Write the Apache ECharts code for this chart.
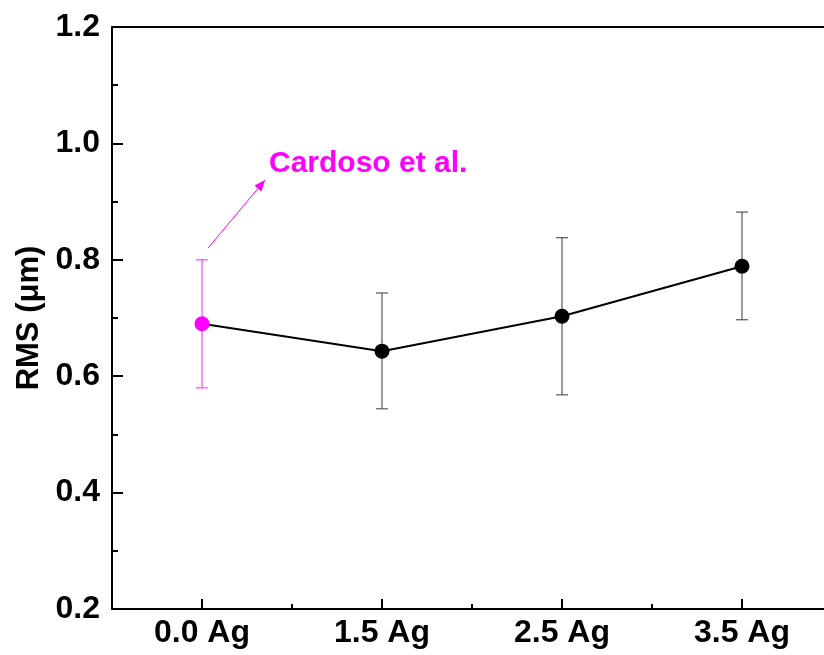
<!DOCTYPE html>
<html>
<head>
<meta charset="utf-8">
<script src="https://cdn.jsdelivr.net/npm/echarts@6/dist/echarts.min.js"></script>
<style>
  html, body { margin: 0; padding: 0; background: #fff; overflow: hidden; }
  #main { width: 900px; height: 655px; }
</style>
</head>
<body>
<div id="main"></div>
<script>
// 数据
const categories = ['0.0 Ag', '1.5 Ag', '2.5 Ag', '3.5 Ag'];
const rmsValues = [0.690, 0.643, 0.703, 0.789];
const errLow = [0.580, 0.544, 0.568, 0.697];
const errHigh = [0.800, 0.743, 0.838, 0.882];
const pointColors = ['#ff00ff', '#000000', '#000000', '#000000'];
const barColors = ['#ff44ff', '#555555', '#555555', '#555555'];
const noteText = 'Cardoso et al.';

const FONT = 'Liberation Sans, Arial, sans-serif';

const chart = echarts.init(document.getElementById('main'));

// 误差棒
const errData = categories.map((c, i) => [i, errLow[i], errHigh[i]]);

function renderErr(params, api) {
  const i = api.value(0);
  const lo = api.coord([i, api.value(1)]);
  const hi = api.coord([i, api.value(2)]);
  const w = 6;
  const style = { stroke: barColors[i], lineWidth: 1.2 };
  return {
    type: 'group',
    children: [
      { type: 'line', shape: { x1: lo[0], y1: lo[1], x2: hi[0], y2: hi[1] }, style },
      { type: 'line', shape: { x1: lo[0] - w, y1: lo[1], x2: lo[0] + w, y2: lo[1] }, style },
      { type: 'line', shape: { x1: hi[0] - w, y1: hi[1], x2: hi[0] + w, y2: hi[1] }, style }
    ]
  };
}

const option = {
  animation: false,
  backgroundColor: '#fff',
  grid: {
    left: 112, top: 27, width: 720, height: 582,
    outerBoundsMode: 'none',
    containLabel: false,
    show: false
  },
  xAxis: [
    {
      type: 'category',
      data: categories,
      boundaryGap: true,
      axisLine: { show: true, lineStyle: { color: '#000', width: 2 } },
      axisTick: { show: true, alignWithLabel: true, inside: true, length: 10, lineStyle: { color: '#000', width: 2 } },
      axisLabel: { color: '#000', fontFamily: FONT, fontWeight: 'bold', fontSize: 32, margin: 8 },
      splitLine: { show: false }
    },
    {
      // 次刻度
      type: 'category',
      data: categories,
      position: 'bottom',
      boundaryGap: true,
      axisLine: { show: false },
      axisTick: { show: true, alignWithLabel: false, inside: true, length: 5, lineStyle: { color: '#000', width: 2 } },
      axisLabel: { show: false },
      splitLine: { show: false }
    },
    {
      // 顶部边框
      type: 'category',
      data: categories,
      position: 'top',
      axisLine: { show: true, lineStyle: { color: '#000', width: 2 } },
      axisTick: { show: false },
      axisLabel: { show: false },
      splitLine: { show: false }
    }
  ],
  yAxis: {
    type: 'value',
    min: 0.2, max: 1.2, interval: 0.2,
    name: 'RMS (μm)',
    nameLocation: 'middle',
    nameGap: 63,
    nameTextStyle: { color: '#000', fontFamily: FONT, fontWeight: 'bold', fontSize: 31 },
    axisLine: { show: true, lineStyle: { color: '#000', width: 2 } },
    axisTick: { show: true, inside: true, length: 11, lineStyle: { color: '#000', width: 2 } },
    minorTick: { show: true, splitNumber: 2, length: 6, lineStyle: { color: '#000', width: 2 } },
    axisLabel: {
      color: '#000', fontFamily: FONT, fontWeight: 'bold', fontSize: 32, margin: 12,
      formatter: v => v.toFixed(1)
    },
    splitLine: { show: false },
    minorSplitLine: { show: false }
  },
  series: [
    {
      type: 'custom',
      xAxisIndex: 0,
      renderItem: renderErr,
      data: errData,
      z: 1
    },
    {
      type: 'line',
      xAxisIndex: 0,
      data: rmsValues.map((v, i) => ({ value: v, itemStyle: { color: pointColors[i] } })),
      symbol: 'circle',
      symbolSize: 15,
      lineStyle: { color: '#000', width: 2 },
      itemStyle: { color: '#000', borderWidth: 0 },
      z: 3
    }
  ]
};

chart.setOption(option);

// 标注：箭头 + 文字（锚点用数据坐标换算）
const p0 = chart.convertToPixel({ xAxisIndex: 0, yAxisIndex: 0 }, [0, 0.82]);
const p1 = chart.convertToPixel({ xAxisIndex: 0, yAxisIndex: 0 }, [0, 0.937]);
const start = [p0[0] + 6, p0[1]];
const end = [p1[0] + 63, p1[1]];
const ang = Math.atan2(end[1] - start[1], end[0] - start[0]);
const ah = 11, aw = 4.5;
const tip = end;
const b1 = [tip[0] - ah * Math.cos(ang) + aw * Math.sin(ang), tip[1] - ah * Math.sin(ang) - aw * Math.cos(ang)];
const b2 = [tip[0] - ah * Math.cos(ang) - aw * Math.sin(ang), tip[1] - ah * Math.sin(ang) + aw * Math.cos(ang)];

chart.setOption({
  graphic: [
    { type: 'line', shape: { x1: start[0], y1: start[1], x2: end[0], y2: end[1] }, style: { stroke: '#ff00ff', lineWidth: 1 } },
    { type: 'polygon', shape: { points: [tip, b1, b2] }, style: { fill: '#ff00ff' } },
    {
      type: 'text', left: end[0] + 4, top: end[1] - 31,
      style: { text: noteText, fill: '#ff00ff', font: 'bold 30px ' + FONT }
    }
  ]
});
</script>
</body>
</html>
